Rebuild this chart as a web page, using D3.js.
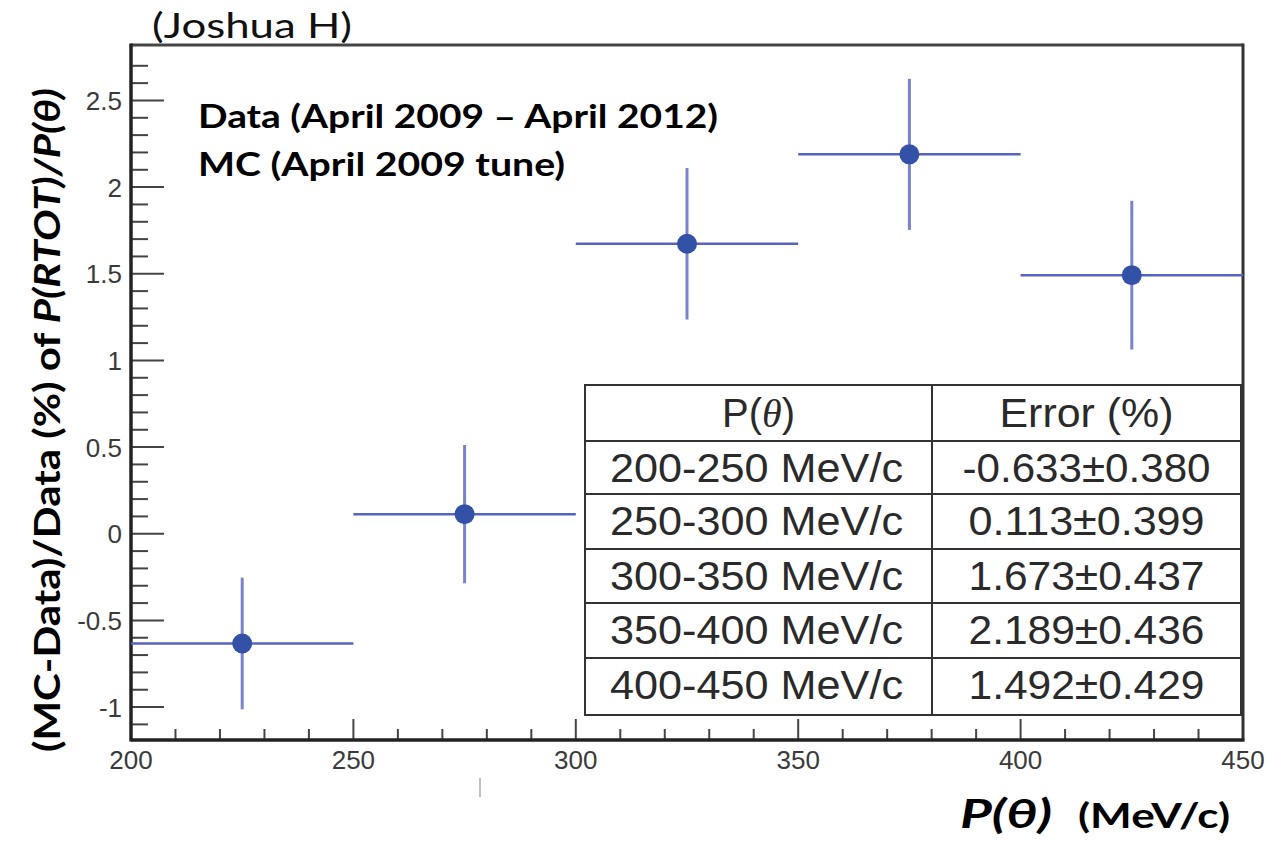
<!DOCTYPE html>
<html>
<head>
<meta charset="utf-8">
<script src="https://cdn.jsdelivr.net/npm/d3@7"></script>
<style>
  html, body { margin: 0; padding: 0; background: #fff; }
  svg { display: block; }
</style>
</head>
<body>
<svg id="chart" width="1268" height="841"></svg>
<script>
// ---- data ----
const binLow    = [200, 250, 300, 350, 400];
const binHigh   = [250, 300, 350, 400, 450];
const values    = [-0.633, 0.113, 1.673, 2.189, 1.492];
const errors    = [0.380, 0.399, 0.437, 0.436, 0.429];
const xTicks    = [200, 250, 300, 350, 400, 450];
const yTicks    = [-1, -0.5, 0, 0.5, 1, 1.5, 2, 2.5];
const yTickLabels = ["-1", "-0.5", "0", "0.5", "1", "1.5", "2", "2.5"];
const tableHeader = ["P(θ)", "Error (%)"];
const tableCol1 = ["200-250 MeV/c", "250-300 MeV/c", "300-350 MeV/c", "350-400 MeV/c", "400-450 MeV/c"];
const tableCol2 = ["-0.633±0.380", "0.113±0.399", "1.673±0.437", "2.189±0.436", "1.492±0.429"];

const svg = d3.select("#chart");
const L = 131, R = 1243, T = 45, B = 740;
const x = d3.scaleLinear().domain([200, 450]).range([L, R]);
const y = d3.scaleLinear().domain([-1.19, 2.82]).range([B, T]);

// frame top/right
svg.append("line").attr("x1", L).attr("x2", R).attr("y1", T).attr("y2", T)
  .attr("stroke", "#444").attr("stroke-width", 3);
svg.append("line").attr("x1", R).attr("x2", R).attr("y1", T - 1.5).attr("y2", B)
  .attr("stroke", "#333").attr("stroke-width", 3);

// y minor ticks
const yMinor = d3.range(-11, 28).map(i => i / 10).filter(v => Math.abs(v * 2 - Math.round(v * 2)) > 1e-6);
svg.append("g").selectAll("line").data(yMinor).join("line")
  .attr("x1", L).attr("x2", L + 17).attr("y1", d => y(d)).attr("y2", d => y(d))
  .attr("stroke", "#444").attr("stroke-width", 2);
// y major ticks
svg.append("g").selectAll("line").data(yTicks).join("line")
  .attr("x1", L).attr("x2", L + 33).attr("y1", d => y(d)).attr("y2", d => y(d))
  .attr("stroke", "#444").attr("stroke-width", 2);
// y tick labels
svg.append("g").selectAll("text").data(yTicks).join("text")
  .attr("x", 122).attr("y", d => y(d) + 9.5).attr("text-anchor", "end")
  .attr("font-family", "Liberation Sans, Arial, sans-serif").attr("font-size", 26)
  .attr("fill", "#3a3a3a")
  .text((d, i) => yTickLabels[i]);

// x minor ticks
const xMinor = d3.range(210, 450, 10).filter(v => v % 50 !== 0);
svg.append("g").selectAll("line").data(xMinor).join("line")
  .attr("x1", d => x(d)).attr("x2", d => x(d)).attr("y1", B).attr("y2", B - 11)
  .attr("stroke", "#444").attr("stroke-width", 2);
svg.append("g").selectAll("line").data(xTicks.slice(1, -1)).join("line")
  .attr("x1", d => x(d)).attr("x2", d => x(d)).attr("y1", B).attr("y2", B - 21)
  .attr("stroke", "#444").attr("stroke-width", 2);
svg.append("g").selectAll("text").data(xTicks).join("text")
  .attr("x", d => x(d)).attr("y", 769).attr("text-anchor", "middle")
  .attr("font-family", "Liberation Sans, Arial, sans-serif").attr("font-size", 26)
  .attr("fill", "#3a3a3a")
  .text(d => d);

// axes lines
svg.append("line").attr("x1", L).attr("x2", L).attr("y1", T - 1.5).attr("y2", B + 1.5)
  .attr("stroke", "#222").attr("stroke-width", 3.5);
svg.append("line").attr("x1", L).attr("x2", R + 1.5).attr("y1", B).attr("y2", B)
  .attr("stroke", "#222").attr("stroke-width", 3.5);

// data: error bars & markers
const pts = values.map((v, i) => ({lo: binLow[i], hi: binHigh[i], v, e: errors[i]}));
const g = svg.append("g");
g.selectAll("line.h").data(pts).join("line").attr("class", "h")
  .attr("x1", d => x(d.lo)).attr("x2", d => x(d.hi))
  .attr("y1", d => y(d.v)).attr("y2", d => y(d.v))
  .attr("stroke", "#5663c0").attr("stroke-width", 2.5);
g.selectAll("line.v").data(pts).join("line").attr("class", "v")
  .attr("x1", d => x((d.lo + d.hi) / 2)).attr("x2", d => x((d.lo + d.hi) / 2))
  .attr("y1", d => y(d.v - d.e)).attr("y2", d => y(d.v + d.e))
  .attr("stroke", "#7884cc").attr("stroke-width", 3);
g.selectAll("circle").data(pts).join("circle")
  .attr("cx", d => x((d.lo + d.hi) / 2)).attr("cy", d => y(d.v)).attr("r", 10)
  .attr("fill", "#3451a8");

// table
const tL = 585, tR = 1241, tMid = 932;
const rowY = [385, 441, 494, 549, 603, 658, 715];
const tg = svg.append("g");
tg.append("rect").attr("x", tL).attr("y", rowY[0]).attr("width", tR - tL).attr("height", rowY[6] - rowY[0])
  .attr("fill", "#fff").attr("stroke", "#333").attr("stroke-width", 2);
tg.selectAll("line.r").data(rowY.slice(1, -1)).join("line").attr("class", "r")
  .attr("x1", tL).attr("x2", tR).attr("y1", d => d).attr("y2", d => d)
  .attr("stroke", "#333").attr("stroke-width", 2);
tg.append("line").attr("x1", tMid).attr("x2", tMid).attr("y1", rowY[0]).attr("y2", rowY[6])
  .attr("stroke", "#333").attr("stroke-width", 2);
const c1 = (tL + tMid) / 2, c2 = (tMid + tR) / 2;
const tFont = "Liberation Sans, Arial, sans-serif";
function cellText(cx, cy, str, w) {
  const t = tg.append("text").attr("x", cx).attr("y", cy).attr("text-anchor", "middle")
    .attr("font-family", tFont).attr("font-size", 40).attr("fill", "#2a2a2a")
    .text(str);
  if (w) t.attr("textLength", w).attr("lengthAdjust", "spacingAndGlyphs");
  return t;
}
// header
const h1 = tg.append("text").attr("x", c1).attr("y", 427).attr("text-anchor", "middle")
  .attr("font-family", tFont).attr("font-size", 40).attr("fill", "#2a2a2a");
h1.append("tspan").text("P(");
h1.append("tspan").attr("font-style", "italic").attr("font-family", "Liberation Serif, serif").text("θ");
h1.append("tspan").text(")");
cellText(c2, 427, tableHeader[1], 174);
tableCol1.forEach((s, i) => cellText(c1 - 2, rowY[i + 1] + 41, s, 293));
tableCol2.forEach((s, i) => cellText(c2, rowY[i + 1] + 41, s, i === 0 ? 248 : 236));

// annotation texts
svg.append("text").attr("x", 152).attr("y", 38)
  .attr("font-family", "Lato, Open Sans, sans-serif").attr("font-size", 35).attr("fill", "#111")
  .attr("textLength", 200).attr("lengthAdjust", "spacingAndGlyphs").text("(Joshua H)");
svg.append("text").attr("x", 198).attr("y", 128)
  .attr("font-family", "Lato, Open Sans, sans-serif").attr("font-weight", 700).attr("font-size", 33).attr("fill", "#000")
  .attr("textLength", 520).attr("lengthAdjust", "spacingAndGlyphs").text("Data (April 2009 – April 2012)");
svg.append("text").attr("x", 198).attr("y", 176)
  .attr("font-family", "Lato, Open Sans, sans-serif").attr("font-weight", 700).attr("font-size", 33).attr("fill", "#000")
  .attr("textLength", 367).attr("lengthAdjust", "spacingAndGlyphs").text("MC (April 2009 tune)");

// x axis title
svg.append("text").attr("x", 960).attr("y", 828)
  .attr("font-family", "Lato, Open Sans, sans-serif").attr("font-weight", 700).attr("font-style", "italic")
  .attr("font-size", 40).attr("fill", "#000")
  .attr("textLength", 92).attr("lengthAdjust", "spacingAndGlyphs").text("P(θ)");
svg.append("text").attr("x", 1078).attr("y", 828)
  .attr("font-family", "Lato, Open Sans, sans-serif").attr("font-weight", 700)
  .attr("font-size", 34).attr("fill", "#000")
  .attr("textLength", 152).attr("lengthAdjust", "spacingAndGlyphs").text("(MeV/c)");

// y axis title (rotated, condensed)
const yl = svg.append("text")
  .attr("transform", "translate(60,752) rotate(-90)")
  .attr("font-family", "Lato, Open Sans, sans-serif").attr("font-weight", 700)
  .attr("font-size", 36).attr("fill", "#000")
  .attr("textLength", 664).attr("lengthAdjust", "spacingAndGlyphs");
yl.append("tspan").text("(MC-Data)/Data (%) of ");
yl.append("tspan").attr("font-style", "italic").text("P(RTOT)/P(θ)");

// small scan artifact
svg.append("line").attr("x1", 480).attr("x2", 480).attr("y1", 778).attr("y2", 797)
  .attr("stroke", "#aaa").attr("stroke-width", 1.5);
</script>
</body>
</html>
